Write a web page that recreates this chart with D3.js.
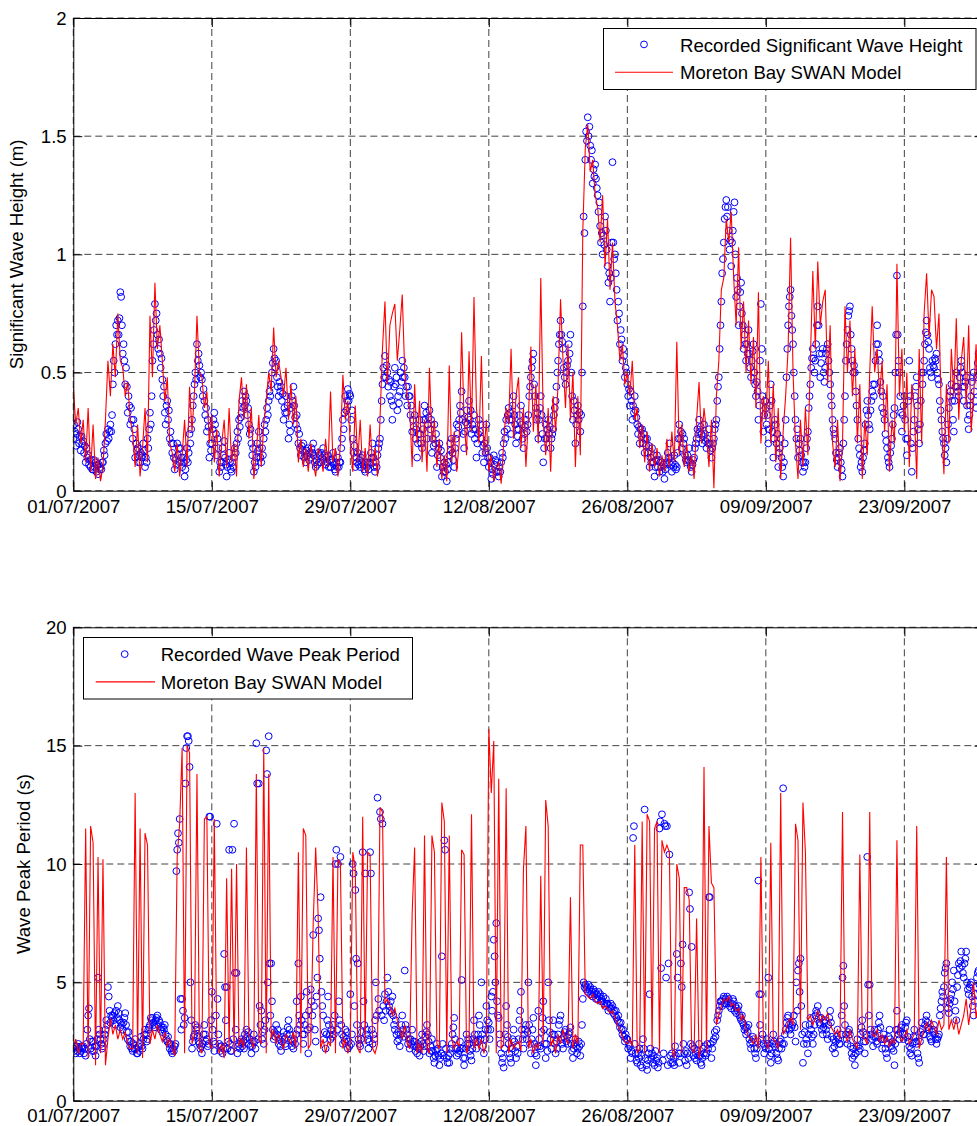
<!DOCTYPE html>
<html><head><meta charset="utf-8">
<script src="https://cdn.jsdelivr.net/npm/d3@7"></script>
<style>
html,body{margin:0;padding:0;background:#fff;}
svg{display:block;}
text{font-family:"Liberation Sans",Arial,Helvetica,sans-serif;fill:#000;}
</style></head><body>
<svg id="chart" width="977" height="1126"></svg>
<script>
// Wave record, Moreton Bay, 1 Jul - 30 Sep 2007
const seriesStart = "01/07/2007";
const obsStepHours = 2;   // buoy record: one value every 2 hours (12 per day)
const modStepHours = 6;   // SWAN model: one value every 6 hours (4 per day)

// Significant wave height (m), buoy record
const hsObs = [
// 1 Jul
0.22,0.28,0.25,0.19,0.24,0.29,0.26,0.20,0.23,0.17,0.23,0.20,
0.21,0.16,0.19,0.12,0.18,0.14,0.15,0.11,0.13,0.10,0.13,0.09,
0.09,0.13,0.10,0.12,0.08,0.11,0.07,0.11,0.09,0.10,0.09,0.12,
0.12,0.17,0.15,0.20,0.24,0.21,0.26,0.22,0.25,0.28,0.25,0.32,
0.45,0.55,0.50,0.62,0.70,0.66,0.72,0.66,0.73,0.84,0.82,0.70,
0.58,0.62,0.55,0.45,0.52,0.44,0.33,0.40,0.36,0.28,0.35,0.30,
0.22,0.30,0.26,0.14,0.20,0.17,0.18,0.12,0.15,0.12,0.16,0.14,
// 8 Jul
0.15,0.20,0.17,0.10,0.14,0.12,0.22,0.18,0.26,0.33,0.28,0.40,
0.55,0.62,0.68,0.79,0.72,0.75,0.66,0.60,0.64,0.58,0.52,0.56,
0.47,0.40,0.44,0.33,0.28,0.36,0.38,0.30,0.34,0.22,0.25,0.20,
0.16,0.20,0.14,0.09,0.13,0.11,0.20,0.15,0.18,0.12,0.18,0.14,
0.10,0.14,0.12,0.06,0.09,0.13,0.18,0.12,0.16,0.24,0.20,0.26,
0.30,0.36,0.40,0.45,0.50,0.47,0.62,0.55,0.58,0.53,0.48,0.50,
0.47,0.40,0.43,0.38,0.32,0.35,0.25,0.30,0.27,0.14,0.20,0.17,
// 15 Jul
0.20,0.26,0.30,0.33,0.28,0.24,0.15,0.22,0.18,0.08,0.12,0.10,
0.12,0.18,0.15,0.21,0.14,0.11,0.06,0.10,0.13,0.16,0.12,0.09,
0.08,0.12,0.10,0.14,0.18,0.16,0.20,0.25,0.22,0.30,0.27,0.31,
0.33,0.38,0.35,0.42,0.36,0.40,0.38,0.32,0.35,0.28,0.24,0.26,
0.20,0.15,0.18,0.08,0.12,0.10,0.14,0.20,0.17,0.25,0.18,0.14,
0.12,0.18,0.15,0.22,0.28,0.25,0.30,0.35,0.32,0.38,0.42,0.40,
0.45,0.50,0.54,0.60,0.56,0.52,0.55,0.48,0.44,0.40,0.46,0.42,
// 22 Jul
0.44,0.38,0.41,0.30,0.35,0.33,0.40,0.33,0.36,0.22,0.28,0.25,
0.35,0.40,0.38,0.44,0.36,0.31,0.28,0.32,0.26,0.20,0.24,0.18,
0.15,0.19,0.17,0.20,0.14,0.16,0.12,0.17,0.15,0.18,0.13,0.16,
0.14,0.18,0.16,0.20,0.15,0.12,0.10,0.13,0.11,0.16,0.12,0.15,
0.12,0.16,0.14,0.18,0.13,0.15,0.11,0.14,0.12,0.15,0.10,0.13,
0.10,0.13,0.12,0.16,0.11,0.09,0.08,0.12,0.10,0.14,0.10,0.12,
0.12,0.18,0.22,0.30,0.26,0.33,0.40,0.34,0.38,0.43,0.38,0.41,
// 29 Jul
0.40,0.30,0.34,0.22,0.16,0.19,0.10,0.14,0.12,0.16,0.11,0.13,
0.10,0.14,0.12,0.15,0.11,0.09,0.08,0.12,0.10,0.12,0.09,0.11,
0.12,0.16,0.14,0.20,0.14,0.10,0.08,0.12,0.10,0.15,0.18,0.20,
0.22,0.30,0.38,0.45,0.52,0.48,0.57,0.48,0.53,0.50,0.44,0.47,
0.40,0.46,0.38,0.30,0.36,0.44,0.52,0.45,0.48,0.34,0.40,0.37,
0.42,0.50,0.46,0.55,0.48,0.52,0.48,0.40,0.44,0.36,0.44,0.40,
0.40,0.32,0.36,0.25,0.30,0.27,0.32,0.22,0.26,0.14,0.20,0.24,
// 5 Aug
0.30,0.24,0.20,0.18,0.26,0.30,0.36,0.30,0.33,0.22,0.28,0.31,
0.34,0.26,0.30,0.16,0.22,0.19,0.28,0.20,0.24,0.10,0.15,0.18,
0.20,0.14,0.17,0.06,0.10,0.08,0.12,0.08,0.11,0.04,0.09,0.12,
0.15,0.20,0.17,0.22,0.16,0.13,0.10,0.18,0.22,0.28,0.24,0.27,
0.30,0.36,0.33,0.42,0.30,0.24,0.18,0.25,0.29,0.34,0.28,0.31,
0.38,0.30,0.34,0.24,0.28,0.26,0.32,0.22,0.26,0.14,0.20,0.24,
0.30,0.25,0.28,0.22,0.16,0.19,0.12,0.20,0.16,0.28,0.18,0.14,
// 12 Aug
0.10,0.14,0.12,0.05,0.09,0.07,0.15,0.11,0.13,0.08,0.12,0.08,
0.06,0.10,0.08,0.12,0.16,0.14,0.20,0.25,0.22,0.30,0.26,0.32,
0.35,0.30,0.33,0.24,0.30,0.36,0.40,0.32,0.28,0.20,0.26,0.23,
0.26,0.32,0.29,0.36,0.28,0.22,0.18,0.24,0.27,0.30,0.25,0.28,
0.32,0.40,0.44,0.48,0.52,0.55,0.58,0.45,0.40,0.35,0.30,0.33,
0.22,0.30,0.35,0.40,0.32,0.24,0.12,0.18,0.22,0.28,0.22,0.26,
0.30,0.24,0.27,0.18,0.22,0.24,0.26,0.32,0.35,0.38,0.44,0.50,
// 19 Aug
0.55,0.62,0.66,0.72,0.66,0.63,0.60,0.52,0.48,0.45,0.50,0.53,
0.55,0.62,0.58,0.66,0.50,0.40,0.30,0.38,0.34,0.20,0.28,0.32,
0.36,0.30,0.33,0.25,0.32,0.50,0.78,1.16,1.09,1.40,1.52,1.48,
1.58,1.50,1.54,1.46,1.40,1.44,1.30,1.36,1.33,1.38,1.32,1.28,
1.25,1.18,1.22,1.12,1.05,1.09,1.00,1.08,1.04,1.16,1.10,1.02,
0.95,0.88,0.92,0.80,0.90,1.05,1.39,1.05,0.98,1.00,0.92,0.85,
0.72,0.80,0.75,0.62,0.68,0.64,0.55,0.60,0.57,0.48,0.52,0.50,
// 26 Aug
0.45,0.40,0.43,0.36,0.42,0.38,0.30,0.36,0.33,0.40,0.34,0.31,
0.28,0.24,0.27,0.20,0.26,0.23,0.26,0.20,0.24,0.16,0.22,0.19,
0.22,0.16,0.19,0.10,0.14,0.12,0.18,0.12,0.15,0.06,0.10,0.13,
0.15,0.10,0.13,0.08,0.12,0.10,0.12,0.08,0.11,0.05,0.09,0.11,
0.12,0.16,0.14,0.20,0.14,0.11,0.08,0.12,0.10,0.15,0.11,0.09,
0.10,0.16,0.22,0.28,0.22,0.25,0.18,0.24,0.20,0.22,0.15,0.13,
0.12,0.15,0.13,0.18,0.12,0.10,0.08,0.11,0.13,0.14,0.18,0.20,
// 2 Sep
0.22,0.26,0.24,0.30,0.25,0.27,0.24,0.20,0.23,0.28,0.24,0.21,
0.18,0.22,0.20,0.26,0.20,0.17,0.14,0.18,0.20,0.22,0.26,0.28,
0.30,0.38,0.44,0.48,0.60,0.70,0.80,0.92,0.98,1.05,1.15,1.20,
1.23,1.16,1.20,1.10,1.02,1.06,0.95,1.05,1.10,1.18,1.22,1.00,
0.82,0.90,0.85,0.70,0.78,0.84,0.88,0.75,0.70,0.60,0.66,0.62,
0.55,0.62,0.58,0.68,0.58,0.52,0.48,0.55,0.59,0.62,0.50,0.45,
0.40,0.46,0.42,0.30,0.36,0.55,0.79,0.60,0.40,0.25,0.32,0.38,
// 9 Sep
0.35,0.28,0.32,0.20,0.26,0.36,0.45,0.38,0.25,0.14,0.22,0.30,
0.28,0.20,0.24,0.10,0.16,0.18,0.22,0.14,0.10,0.06,0.12,0.20,
0.30,0.48,0.60,0.70,0.78,0.82,0.85,0.74,0.68,0.62,0.50,0.40,
0.30,0.22,0.26,0.14,0.20,0.17,0.22,0.15,0.12,0.08,0.12,0.10,
0.12,0.18,0.22,0.25,0.35,0.40,0.45,0.52,0.56,0.60,0.56,0.50,
0.55,0.62,0.70,0.78,0.70,0.58,0.48,0.54,0.58,0.60,0.50,0.46,
0.52,0.58,0.60,0.62,0.55,0.50,0.45,0.40,0.36,0.30,0.26,0.24,
// 16 Sep
0.22,0.16,0.13,0.10,0.14,0.16,0.18,0.12,0.09,0.06,0.20,0.30,
0.40,0.55,0.62,0.68,0.74,0.76,0.78,0.66,0.60,0.55,0.50,0.53,
0.50,0.42,0.36,0.30,0.22,0.18,0.15,0.10,0.12,0.08,0.14,0.17,
0.20,0.28,0.34,0.38,0.32,0.28,0.26,0.34,0.38,0.42,0.45,0.40,
0.45,0.55,0.62,0.70,0.62,0.58,0.55,0.46,0.42,0.35,0.40,0.33,
0.30,0.24,0.21,0.18,0.14,0.12,0.10,0.16,0.19,0.22,0.28,0.32,
0.35,0.50,0.66,0.91,0.66,0.55,0.50,0.40,0.33,0.25,0.32,0.36,
// 23 Sep
0.40,0.30,0.22,0.15,0.22,0.38,0.55,0.40,0.20,0.08,0.18,0.25,
0.30,0.40,0.44,0.48,0.36,0.26,0.20,0.28,0.38,0.50,0.45,0.50,
0.55,0.62,0.67,0.72,0.66,0.63,0.60,0.52,0.50,0.48,0.55,0.53,
0.52,0.56,0.55,0.58,0.50,0.47,0.45,0.38,0.34,0.30,0.25,0.22,
0.20,0.15,0.18,0.12,0.22,0.28,0.35,0.40,0.42,0.45,0.38,0.30,
0.25,0.38,0.44,0.50,0.44,0.42,0.40,0.48,0.52,0.55,0.50,0.44,
0.38,0.44,0.46,0.48,0.36,0.30,0.26,0.32,0.36,0.40,0.46,0.48,
// 30 Sep
0.50,0.42,0.38,0.35,0.48,0.54,0.58,0.52,0.48,0.45,0.40,0.44
];

// Significant wave height (m), SWAN model
const hsMod = [
// 1 Jul
0.44,0.28,0.35,0.20, 0.30,0.12,0.35,0.08, 0.28,0.05,0.14,0.04, 0.10,0.30,0.55,0.40,
0.62,0.48,0.75,0.55, 0.52,0.40,0.46,0.30, 0.25,0.10,0.28,0.06,
// 8 Jul
0.18,0.35,0.12,0.74, 0.48,0.88,0.60,0.70, 0.55,0.38,0.48,0.20, 0.16,0.08,0.20,0.06,
0.15,0.30,0.10,0.44, 0.25,0.42,0.74,0.50, 0.48,0.35,0.42,0.20,
// 15 Jul
0.32,0.12,0.26,0.06, 0.20,0.30,0.10,0.35, 0.12,0.20,0.06,0.38, 0.48,0.30,0.45,0.22,
0.35,0.05,0.16,0.32, 0.10,0.28,0.38,0.50, 0.42,0.69,0.48,0.55,
// 22 Jul
0.48,0.40,0.52,0.30, 0.45,0.28,0.40,0.12, 0.22,0.10,0.18,0.08, 0.20,0.12,0.06,0.18,
0.15,0.08,0.22,0.10, 0.42,0.12,0.18,0.06, 0.20,0.49,0.30,0.38,
// 29 Jul
0.20,0.08,0.36,0.12, 0.30,0.08,0.18,0.06, 0.28,0.10,0.18,0.06, 0.30,0.60,0.80,0.45,
0.70,0.75,0.79,0.55, 0.68,0.83,0.50,0.40, 0.35,0.10,0.45,0.20,
// 5 Aug
0.38,0.12,0.30,0.08, 0.52,0.20,0.30,0.10, 0.22,0.05,0.15,0.04, 0.53,0.12,0.25,0.08,
0.20,0.67,0.30,0.15, 0.59,0.25,0.82,0.35, 0.20,0.57,0.15,0.30,
// 12 Aug
0.08,0.15,0.04,0.10, 0.12,0.03,0.20,0.35, 0.28,0.60,0.22,0.40, 0.48,0.18,0.35,0.10,
0.30,0.61,0.25,0.45, 0.20,0.90,0.30,0.15, 0.35,0.08,0.40,0.25,
// 19 Aug
0.45,0.81,0.55,0.35, 0.62,0.30,0.50,0.10, 0.40,0.15,1.10,1.45, 1.55,1.35,1.40,1.25,
1.20,1.05,1.25,0.95, 1.15,0.85,1.05,0.80, 0.70,0.55,0.62,0.45,
// 26 Aug
0.50,0.40,0.55,0.30, 0.35,0.18,0.28,0.12, 0.25,0.08,0.20,0.10, 0.18,0.06,0.15,0.08,
0.22,0.10,0.25,0.12, 0.63,0.15,0.28,0.10, 0.20,0.08,0.15,0.05,
// 2 Sep
0.30,0.46,0.20,0.35, 0.25,0.10,0.30,0.01, 0.40,0.55,0.85,0.90, 1.15,1.05,1.18,0.90,
0.70,1.03,0.60,0.80, 0.50,0.72,0.45,0.65, 0.35,0.84,0.20,0.40,
// 9 Sep
0.30,0.55,0.20,0.45, 0.12,0.35,0.05,0.25, 0.40,0.60,1.07,0.50, 0.20,0.05,0.30,0.10,
0.35,0.15,0.55,0.93, 0.60,0.97,0.70,0.80, 0.85,0.45,0.70,0.20,
// 16 Sep
0.10,0.30,0.04,0.20, 0.78,0.50,0.72,0.40, 0.60,0.20,0.45,0.05, 0.30,0.15,0.50,0.78,
0.50,0.60,0.40,0.55, 0.25,0.45,0.08,0.30, 0.20,0.96,0.40,0.60,
// 23 Sep
0.25,0.50,0.10,0.45, 0.35,0.05,0.60,0.20, 0.75,0.92,0.65,0.85, 0.82,0.60,0.75,0.30,
0.07,0.45,0.20,0.60, 0.40,0.73,0.30,0.55, 0.65,0.35,0.70,0.25,
// 30 Sep
0.40,0.62,0.30,0.70
];

// Wave peak period (s), buoy record
const tpObs = [
// 1 Jul
2.2,2.1,2.3,2.0,2.3,2.1,2.4,2.2,2.0,2.1,2.3,2.2,
2.3,2.0,2.2,1.9,2.4,3.0,3.6,3.9,2.6,2.2,2.5,2.1,
2.5,2.1,2.3,1.9,2.3,2.6,5.2,3.0,2.8,2.6,2.4,2.2,
2.3,2.6,2.8,3.0,3.4,3.2,4.8,4.4,3.8,3.3,3.6,3.5,
3.6,3.4,3.7,3.2,3.8,3.5,4.0,3.7,3.4,3.1,3.3,3.2,
3.0,3.3,3.5,3.7,3.2,2.9,2.6,2.9,2.5,2.3,2.5,2.2,
2.1,2.4,2.2,2.6,2.2,2.0,2.0,2.3,2.1,2.4,2.7,2.3,
// 8 Jul
2.2,2.6,2.8,3.0,2.8,2.5,2.6,3.0,3.1,3.2,3.5,3.4,
3.5,3.3,3.2,3.1,3.4,3.5,3.6,3.2,3.4,3.3,3.0,3.1,
2.9,3.1,3.0,3.2,2.8,2.6,2.5,2.7,2.4,2.2,2.4,2.1,
2.0,2.2,2.1,2.3,2.4,9.7,10.6,11.3,10.9,11.9,4.3,3.0,
4.3,3.8,3.2,3.5,13.4,14.9,15.4,15.4,15.2,14.1,5.0,3.4,
2.2,2.5,2.7,2.8,3.2,3.0,3.1,2.7,2.5,2.4,2.2,2.3,
2.0,2.4,2.8,3.2,2.8,2.5,2.6,2.3,2.4,12.0,12.0,3.4,
// 15 Jul
4.6,3.0,2.5,2.1,2.4,3.6,11.7,4.3,2.8,2.4,2.1,2.3,
2.3,2.0,2.2,6.2,4.8,3.4,4.8,2.2,2.5,10.6,2.4,2.1,
2.1,10.6,2.6,11.7,5.4,3.0,5.4,2.0,2.3,2.4,2.2,2.5,
2.6,2.3,2.5,2.2,2.8,2.6,3.0,2.7,2.9,2.4,2.6,2.3,
2.0,2.3,2.5,2.8,2.5,2.2,15.1,13.4,2.6,13.4,4.0,3.2,
3.8,2.6,2.9,2.4,3.0,3.4,14.8,13.8,5.0,15.4,5.8,3.6,
5.8,4.2,3.0,2.6,2.9,2.7,3.2,2.8,3.0,2.4,2.6,2.3,
// 22 Jul
2.1,2.5,2.7,2.9,2.6,2.4,2.3,2.8,3.1,3.4,3.0,2.8,
2.6,2.3,2.5,2.2,2.6,2.4,2.8,4.2,3.0,5.8,3.6,3.2,
4.4,3.4,2.8,2.4,2.8,3.2,3.6,4.6,3.0,2.0,3.8,3.1,
4.7,4.2,3.6,7.0,4.0,3.0,2.5,4.4,5.2,7.7,7.2,6.0,
8.6,4.6,4.0,3.6,2.6,2.9,2.2,2.8,3.4,4.4,3.2,2.8,
2.6,3.0,2.7,3.2,2.8,3.6,10.0,10.6,3.0,10.0,4.2,3.4,
10.3,3.2,2.8,2.4,2.7,2.5,3.0,2.6,2.9,2.2,2.5,2.3,
// 29 Jul
4.5,2.4,2.8,10.0,9.6,4.0,8.9,6.0,3.2,5.8,2.6,2.4,
2.3,2.6,2.9,10.5,4.2,3.2,9.6,2.8,3.0,2.6,2.2,2.5,
10.5,9.6,3.0,2.4,2.8,2.6,3.4,5.0,3.6,12.8,4.3,3.8,
12.2,11.9,3.6,11.7,4.0,3.4,4.5,3.8,4.2,5.2,4.6,4.0,
3.8,4.2,3.7,4.4,3.6,3.2,3.0,3.4,2.8,2.5,2.9,2.6,
2.3,2.8,3.2,3.6,3.0,2.7,5.5,3.2,3.0,2.8,2.4,2.6,
2.2,2.6,2.4,3.0,2.5,2.3,2.5,2.1,2.3,2.0,2.4,2.2,
// 5 Aug
1.9,2.3,2.5,2.8,2.4,2.1,2.3,2.7,2.9,3.2,2.8,2.5,
2.0,2.3,2.1,2.6,2.1,1.8,1.6,1.9,2.1,2.4,2.2,1.9,
1.5,1.8,2.0,6.1,2.4,1.9,11.0,10.6,2.2,1.8,1.6,1.9,
1.6,2.0,2.2,2.4,2.8,3.1,3.5,2.6,2.2,1.9,2.2,2.0,
2.1,2.5,2.2,5.1,2.2,1.8,1.5,1.8,2.2,2.8,2.4,2.6,
2.4,2.1,1.9,1.7,2.2,2.6,3.4,2.8,2.5,2.2,2.5,2.8,
3.6,3.2,2.6,5.0,2.8,2.3,2.0,2.6,3.0,4.0,3.4,3.0,
// 12 Aug
3.3,2.6,3.0,4.4,3.8,4.6,6.8,6.1,5.0,7.5,4.2,3.6,
3.5,2.8,2.4,2.0,1.6,1.8,1.4,2.2,2.8,4.0,3.2,2.7,
2.4,2.0,1.8,1.6,2.2,2.6,3.0,2.5,2.1,1.8,2.3,2.0,
2.6,3.4,3.8,4.6,3.0,2.6,2.2,2.8,3.0,3.2,2.6,2.9,
5.0,3.2,2.4,2.0,2.6,3.0,3.5,2.4,2.0,1.5,1.9,2.3,
3.8,2.6,2.3,2.2,2.9,3.5,4.2,3.0,2.4,1.8,2.4,2.1,
5.0,3.4,2.9,2.6,2.2,2.8,3.4,2.8,2.4,2.0,2.5,2.2,
// 19 Aug
2.8,3.2,3.4,3.6,2.6,2.4,2.2,2.7,2.9,3.0,2.5,2.7,
2.4,2.8,2.9,3.1,2.4,2.1,1.8,2.2,2.4,2.6,2.3,2.0,
2.2,2.5,2.3,1.9,2.4,3.2,4.3,5.0,4.8,4.9,4.7,4.8,
4.6,4.9,4.7,4.8,4.5,4.6,4.4,4.7,4.5,4.6,4.3,4.5,
4.3,4.6,4.4,4.5,4.2,4.3,4.2,4.4,4.1,4.0,4.3,4.1,
4.1,3.8,4.0,3.9,4.1,3.9,4.0,3.7,3.8,3.6,3.8,3.5,
3.4,3.6,3.3,3.1,3.3,3.0,2.8,3.0,2.7,2.5,2.8,2.6,
// 26 Aug
2.6,2.2,2.4,2.3,1.8,2.1,2.0,11.1,11.6,2.4,2.0,1.7,
1.6,2.0,1.8,2.2,1.5,1.9,1.4,2.6,2.2,12.3,1.8,1.5,
1.3,1.7,2.0,4.5,2.2,1.8,2.0,1.6,1.9,1.5,2.1,1.7,
1.8,1.4,1.6,11.5,11.8,5.6,12.1,1.7,2.0,11.7,11.6,5.2,
11.6,1.5,5.8,10.4,1.9,1.6,2.0,1.6,1.8,1.5,2.3,1.9,
6.2,5.2,2.0,1.6,2.0,5.8,4.8,6.6,2.4,2.0,1.7,2.1,
1.5,2.0,1.8,8.8,8.1,2.4,6.5,2.3,1.9,2.2,1.8,2.0,
// 2 Sep
1.7,2.1,1.9,2.4,1.9,1.6,1.5,1.8,2.2,2.0,2.3,1.9,
2.0,2.4,2.2,8.6,8.6,2.4,1.8,2.2,2.5,2.6,2.9,2.7,
3.0,3.4,3.6,3.8,4.0,4.2,4.2,4.0,4.3,4.4,4.1,4.3,
4.1,4.4,4.2,4.3,4.0,4.1,3.9,4.1,4.3,4.2,3.8,4.0,
3.7,3.9,3.8,4.0,3.6,3.5,3.4,3.6,3.3,3.2,3.0,3.1,
2.8,3.1,2.9,3.2,2.6,2.4,2.2,2.5,2.7,2.6,2.2,2.0,
1.8,2.2,2.5,9.3,4.5,3.2,4.5,2.6,2.8,2.4,2.0,2.3,
// 9 Sep
2.2,2.6,2.4,5.2,2.2,1.9,1.6,2.0,2.4,2.8,2.5,2.3,
2.4,2.0,1.8,1.7,2.2,2.5,2.6,2.2,2.4,13.2,2.4,2.8,
3.0,3.3,3.5,3.6,3.2,3.0,2.8,3.1,3.2,3.3,3.6,3.1,
2.5,5.0,3.8,5.5,5.8,4.6,6.0,4.0,2.8,1.6,2.4,2.9,
3.2,2.6,2.4,2.0,2.8,3.2,3.5,3.0,2.7,2.4,2.8,3.2,
3.6,3.8,3.7,4.0,3.5,3.3,3.2,3.5,3.0,2.8,3.1,3.3,
3.4,3.0,2.8,2.6,3.2,3.5,3.8,3.3,2.7,2.2,2.6,2.3,
// 16 Sep
2.0,2.5,2.7,3.0,2.6,2.4,2.4,2.8,3.6,5.2,5.7,4.0,
3.2,2.8,2.6,2.4,2.9,3.0,2.8,2.3,2.0,1.8,2.2,1.9,
1.5,2.0,2.3,2.6,2.3,2.1,2.2,2.8,3.1,3.4,2.9,2.5,
2.0,2.5,2.8,10.3,4.9,3.6,4.9,3.0,2.8,2.6,2.3,2.7,
3.0,2.7,2.5,2.4,3.0,3.3,3.6,3.1,2.6,2.2,2.6,2.8,
2.6,2.2,2.0,1.8,2.4,2.7,3.0,2.6,2.3,2.2,2.5,2.1,
1.5,2.4,3.0,3.8,3.0,2.8,2.6,2.9,3.1,3.2,2.8,2.6,
// 23 Sep
2.8,3.1,3.3,3.4,2.7,2.5,2.3,2.0,2.2,1.9,2.4,2.7,
3.0,2.7,2.5,2.4,2.0,1.8,1.6,2.5,2.9,3.3,3.0,2.8,
2.8,3.2,3.4,3.6,3.3,3.1,3.0,2.7,2.6,2.5,2.9,3.0,
3.2,2.8,2.6,2.4,2.6,2.7,2.8,3.6,3.9,4.2,4.6,4.4,
4.8,5.4,5.6,5.8,4.2,3.9,3.7,4.1,4.3,4.5,5.0,4.7,
5.5,4.2,3.8,3.4,4.8,5.3,5.8,5.6,5.9,6.3,5.7,5.4,
5.2,5.8,6.0,6.3,5.0,4.7,4.5,4.8,4.9,5.0,4.4,4.0,
// 30 Sep
3.6,4.2,4.5,4.8,5.2,5.4,5.5,4.9,4.6,4.2,3.8,4.0
];

// Wave peak period (s), SWAN model
const tpMod = [
// 1 Jul
2.2,2.6,2.0,2.4, 2.4,11.5,1.8,11.6, 10.9,1.5,10.3,2.0, 10.2,1.5,2.6,3.5,
2.8,3.2,2.6,3.0, 2.6,2.9,2.4,2.2, 2.2,13.0,2.0,11.5,
// 8 Jul
1.8,11.3,10.8,2.4, 3.0,2.6,3.2,2.8, 2.5,2.9,2.3,2.6, 2.2,1.9,10.3,11.7,
14.9,2.0,15.0,14.7, 2.4,2.8,13.8,2.2, 2.0,11.9,12.0,2.4,
// 15 Jul
2.2,11.9,2.5,2.0, 2.4,1.8,9.4,2.2, 9.8,2.0,10.0,2.3, 2.6,2.2,10.7,2.8,
2.5,2.2,13.8,2.6, 2.4,14.9,2.0,13.8, 2.6,3.0,2.4,2.8,
// 22 Jul
2.5,2.2,2.8,2.6, 2.4,2.9,2.2,10.5, 2.0,11.5,11.2,2.2, 2.4,7.5,10.7,7.8,
2.2,2.6,2.0,2.5, 2.3,10.3,2.0,10.2, 10.0,2.2,2.6,2.0,
// 29 Jul
2.4,10.5,9.8,2.2, 2.0,12.0,2.4,10.5, 10.4,2.2,2.0,2.4, 12.4,12.2,4.1,4.3,
4.0,3.6,3.9,3.4, 3.0,2.6,3.2,2.4, 2.2,7.9,10.7,2.0,
// 5 Aug
2.4,2.0,11.2,2.2, 2.0,11.2,10.5,2.4, 2.2,12.6,11.8,2.0, 11.2,2.6,2.2,2.5,
2.3,10.6,10.4,2.0, 2.4,12.1,2.2,2.6, 2.2,2.6,2.0,2.4,
// 12 Aug
15.7,13.0,15.2,2.0, 13.6,2.2,2.4,13.2, 2.0,2.6,2.2,2.4, 2.5,2.1,9.8,11.6,
2.2,2.6,2.0,2.4, 2.2,9.5,2.4,12.7, 11.6,2.3,2.6,2.0,
// 19 Aug
2.8,2.4,3.0,2.6, 2.4,8.6,2.2,2.8, 2.4,10.8,10.8,4.5, 4.4,4.3,4.5,4.2,
4.1,4.2,3.9,4.0, 3.9,3.7,3.8,3.5, 3.2,3.0,2.7,2.5,
// 26 Aug
2.4,2.6,2.3,10.8, 2.0,2.2,11.8,2.0, 12.1,11.8,2.2,11.5, 11.8,2.0,11.0,10.5,
10.8,10.5,2.2,1.8, 10.0,9.4,2.0,9.0, 9.0,8.5,2.2,2.0,
// 2 Sep
7.7,1.8,2.4,14.1, 2.0,11.6,9.2,9.0, 3.2,3.6,4.0,4.3, 4.2,4.4,4.0,4.1,
3.8,3.9,3.4,3.6, 3.0,2.7,2.6,2.4, 2.8,2.2,10.3,2.6,
// 9 Sep
2.4,2.2,10.9,2.6, 2.5,2.2,13.0,2.8, 3.0,3.3,3.5,3.2, 11.7,11.0,3.0,12.6,
10.5,3.4,3.6,3.2, 3.5,3.8,3.3,3.6, 3.4,3.7,3.2,3.0,
// 16 Sep
2.8,3.0,2.6,12.2, 2.8,2.5,3.0,2.6, 2.4,2.2,10.4,2.7, 2.6,2.4,12.2,2.8,
2.7,3.0,2.5,2.8, 2.4,2.7,2.3,2.6, 2.4,11.0,2.8,2.5,
// 23 Sep
2.7,3.0,2.4,2.6, 2.8,11.6,2.2,2.6, 3.0,3.3,2.9,3.4, 3.1,2.8,3.4,3.0,
3.2,10.3,3.0,3.4, 3.0,3.5,2.8,3.2, 3.6,4.3,3.2,4.0,
// 30 Sep
5.0,3.5,4.2,2.2
];

const dateTicks = ["01/07/2007","15/07/2007","29/07/2007","12/08/2007","26/08/2007","09/09/2007","23/09/2007"];
const hsTicks = [0, 0.5, 1, 1.5, 2];
const tpTicks = [0, 5, 10, 15, 20];
const hsLegend = ["Recorded Significant Wave Height", "Moreton Bay SWAN Model"];
const tpLegend = ["Recorded Wave Peak Period", "Moreton Bay SWAN Model"];

const parseDay = d3.utcParse("%d/%m/%Y");
const t0 = parseDay(seriesStart);
const timeAt = (i, step) => new Date(t0.getTime() + i * step * 3600e3);

const svg = d3.select("#chart");
const FONT = 18.6;
const MARKER_R = 3.4;
const plotLeft = 73.3, plotRight = 983.5;
const x = d3.scaleUtc()
  .domain([t0, d3.utcDay.offset(t0, 92)])
  .range([plotLeft, plotRight]);

function drawPanel(cfg) {
  const y = d3.scaleLinear().domain(cfg.domain).range([cfg.bottom, cfg.top]);
  const g = svg.append("g");
  const clipId = "clip-" + cfg.name;
  g.append("clipPath").attr("id", clipId)
    .append("rect")
    .attr("x", plotLeft).attr("y", cfg.top)
    .attr("width", plotRight - plotLeft).attr("height", cfg.bottom - cfg.top);

  // dashed grid
  const tickDates = dateTicks.map(parseDay);
  g.append("g").selectAll("line").data(tickDates).join("line")
    .attr("x1", d => x(d)).attr("x2", d => x(d))
    .attr("y1", cfg.top).attr("y2", cfg.bottom)
    .attr("stroke", "#111").attr("stroke-width", 0.8)
    .attr("stroke-dasharray", "7,4");
  g.append("g").selectAll("line").data(cfg.ticks).join("line")
    .attr("x1", plotLeft).attr("x2", plotRight)
    .attr("y1", d => y(d)).attr("y2", d => y(d))
    .attr("stroke", "#111").attr("stroke-width", 0.8)
    .attr("stroke-dasharray", "7,4");

  // data: recorded values as open circles, model as a line on top
  const data = g.append("g").attr("clip-path", `url(#${clipId})`);
  data.append("g").selectAll("circle").data(cfg.obs).join("circle")
    .attr("cx", (d, i) => x(timeAt(i, obsStepHours)))
    .attr("cy", d => y(d))
    .attr("r", MARKER_R)
    .attr("fill", "none").attr("stroke", "#0000ff").attr("stroke-width", 1);
  const line = d3.line().x((d, i) => x(timeAt(i, modStepHours))).y(d => y(d));
  data.append("path").datum(cfg.mod)
    .attr("d", line)
    .attr("fill", "none").attr("stroke", "#ff0000").attr("stroke-width", 1.1);

  // axes, ticks drawn inward on all four sides
  const xAxisB = d3.axisBottom(x).tickValues(tickDates).tickSizeInner(-9).tickSizeOuter(0).tickFormat(d3.utcFormat("%d/%m/%Y"));
  const xAxisT = d3.axisTop(x).tickValues(tickDates).tickSizeInner(-9).tickSizeOuter(0).tickFormat("");
  const yAxisL = d3.axisLeft(y).tickValues(cfg.ticks).tickSizeInner(-9).tickSizeOuter(0).tickFormat(d3.format("~g"));
  const yAxisR = d3.axisRight(y).tickValues(cfg.ticks).tickSizeInner(-9).tickSizeOuter(0).tickFormat("");

  const styleAxis = sel => {
    sel.select(".domain").attr("stroke", "#000").attr("stroke-width", 1);
    sel.selectAll(".tick line").attr("stroke", "#000").attr("stroke-width", 1);
    sel.selectAll(".tick text").attr("font-size", FONT).attr("fill", "#000")
      .attr("font-family", '"Liberation Sans", Arial, sans-serif');
  };

  const gxb = g.append("g").attr("transform", `translate(0,${cfg.bottom})`).call(xAxisB).call(styleAxis);
  gxb.selectAll(".tick text").attr("y", 0).attr("dy", 0)
    .attr("transform", `translate(0,${cfg.labelBaseline - cfg.bottom})`);
  g.append("g").attr("transform", `translate(0,${cfg.top})`).call(xAxisT).call(styleAxis);
  const gyl = g.append("g").attr("transform", `translate(${plotLeft},0)`).call(yAxisL).call(styleAxis);
  gyl.selectAll(".tick text").attr("x", -6.6).attr("dy", "0.34em");
  g.append("g").attr("transform", `translate(${plotRight},0)`).call(yAxisR).call(styleAxis);

  // axis title
  g.append("text")
    .attr("transform", `translate(${cfg.titleX},${(cfg.top + cfg.bottom) / 2}) rotate(-90)`)
    .attr("text-anchor", "middle")
    .attr("font-size", FONT)
    .text(cfg.title);

  // legend
  const L = cfg.legend;
  const lg = g.append("g");
  lg.append("rect")
    .attr("x", L.x).attr("y", L.y).attr("width", L.w).attr("height", L.h)
    .attr("fill", "#fff").attr("stroke", "#000").attr("stroke-width", 1);
  lg.append("circle")
    .attr("cx", L.markerX).attr("cy", L.row1 - 7.2).attr("r", MARKER_R)
    .attr("fill", "none").attr("stroke", "#0000ff").attr("stroke-width", 1);
  lg.append("line")
    .attr("x1", L.lineX1).attr("x2", L.lineX2)
    .attr("y1", L.row2 - 7.2).attr("y2", L.row2 - 7.2)
    .attr("stroke", "#ff0000").attr("stroke-width", 1.1);
  lg.selectAll("text").data(cfg.legendText).join("text")
    .attr("x", L.textX)
    .attr("y", (d, i) => i === 0 ? L.row1 : L.row2)
    .attr("font-size", FONT)
    .text(d => d);
}

drawPanel({
  name: "hs", top: 18, bottom: 490.7, domain: [0, 2], ticks: hsTicks,
  obs: hsObs, mod: hsMod, labelBaseline: 513.3,
  title: "Significant Wave Height (m)", titleX: 23.2,
  legend: { x: 603.5, y: 28.5, w: 372.5, h: 61, markerX: 644, lineX1: 615, lineX2: 673,
            textX: 680, row1: 51.6, row2: 79.4 },
  legendText: hsLegend
});

drawPanel({
  name: "tp", top: 627.3, bottom: 1100.7, domain: [0, 20], ticks: tpTicks,
  obs: tpObs, mod: tpMod, labelBaseline: 1122.3,
  title: "Wave Peak Period (s)", titleX: 30,
  legend: { x: 83.5, y: 637.5, w: 329, h: 61.5, markerX: 124.7, lineX1: 95.7, lineX2: 155,
            textX: 160.7, row1: 661.3, row2: 689.1 },
  legendText: tpLegend
});
</script>
</body></html>
